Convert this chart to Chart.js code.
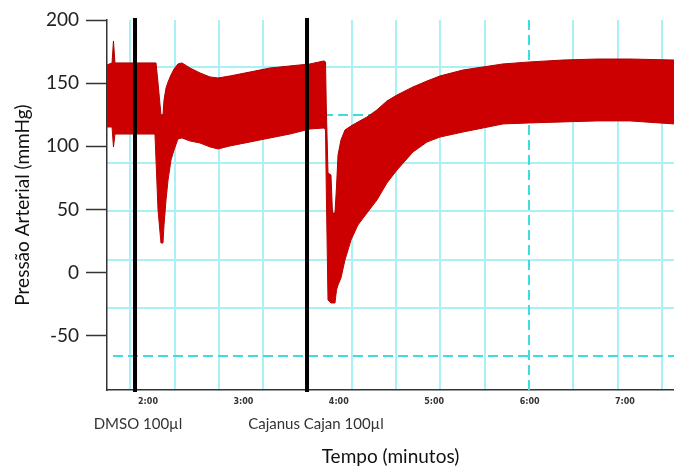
<!DOCTYPE html>
<html>
<head>
<meta charset="utf-8">
<script src="https://cdn.jsdelivr.net/npm/chart.js@4.4.1/dist/chart.umd.min.js"></script>
<style>
  html, body { margin: 0; padding: 0; background: #ffffff; }
  #wrap { width: 674px; height: 468px; }
</style>
</head>
<body>
<div id="wrap"><canvas id="c" width="674" height="468"></canvas></div>
<script>
// Arterial pressure recording: upper (systolic) and lower (diastolic) envelope of the pulse, time in minutes
const minutes = [1.570, 1.623, 1.638, 1.654, 2.073, 2.084, 2.105, 2.136, 2.157, 2.168, 2.189, 2.210, 2.241, 2.273,
  2.314, 2.356, 2.440, 2.545, 2.650, 2.734, 2.860, 3.069, 3.279, 3.488, 3.698, 3.845, 3.861, 3.869, 3.887,
  3.918, 3.934, 3.960, 3.976, 3.992, 4.023, 4.065, 4.128, 4.201, 4.296, 4.400, 4.505, 4.610, 4.778, 4.925,
  5.061, 5.302, 5.512, 5.721, 6.004, 6.350, 6.706, 7.052, 7.514];
const systolic = [164.4, 166.0, 183.4, 166.0, 166.0, 166.0, 150.1, 124.8, 124.8, 136.7, 146.2, 150.9, 156.5, 161.2,
  165.2, 166.0, 162.0, 158.1, 154.9, 154.1, 155.7, 158.8, 162.0, 163.6, 165.2, 167.6, 166.8, 131.1, 78.9,
  77.3, 47.2, 47.2, 67.8, 93.1, 105.0, 112.9, 116.1, 119.3, 123.2, 128.8, 135.9, 140.6, 147.0, 151.7,
  155.7, 160.4, 162.8, 165.2, 166.8, 168.3, 169.1, 169.1, 168.3];
const diastolic = [115.3, 115.3, 99.5, 109.7, 109.7, 89.2, 49.6, 23.4, 23.4, 37.7, 57.5, 73.3, 89.2, 97.1,
  105.8, 106.6, 104.2, 102.6, 99.5, 97.9, 100.3, 103.4, 106.6, 109.7, 113.7, 114.5, 112.9, 65.4, -21.7,
  -24.1, -24.1, -24.1, -13.8, -9.8, -4.3, 10.0, 25.8, 37.7, 47.2, 57.5, 71.0, 81.2, 95.5, 103.4,
  107.3, 111.3, 114.5, 117.7, 118.5, 119.3, 120.1, 120.1, 117.7];

// axis ticks
const pressureTicks = [200, 150, 100, 50, 0, -50];
const minuteTicks = [2, 3, 4, 5, 6, 7];

// injections (minutes) and their captions
const injectionMinutes = [1.864, 3.667];
const injectionLabels = ['DMSO 100µl', 'Cajanus Cajan 100µl'];

// background paper grid (cell indices); dashed guide lines
const gridCols = [-9, -8, -7, -6, -5, -4, -3, -2, -1, 0, 1, 2, 3];
const gridRows = [0, 1, 2, 3, 4, 5, 6];
const dashedCols = [0];
const dashedRows = [0, 5];

const GRID = '#aaf1f5';
const GUIDE = '#3fdbe2';
const RED = '#cc0000';
const captionOffsets = [3, 9];

const upper = minutes.map((t, i) => ({ x: t, y: systolic[i] }));
const lower = minutes.map((t, i) => ({ x: t, y: diastolic[i] }));

const markers = {
  id: 'markers',
  beforeDatasetsDraw(chart) {
    const { ctx, chartArea: a, scales } = chart;
    ctx.save();
    ctx.strokeStyle = GUIDE;
    ctx.lineWidth = 2;
    ctx.setLineDash([10, 5]);
    dashedCols.forEach(v => {
      const x = Math.round(scales.xg.getPixelForValue(v));
      ctx.beginPath(); ctx.moveTo(x, a.top); ctx.lineTo(x, a.bottom); ctx.stroke();
    });
    dashedRows.forEach(v => {
      const y = Math.round(scales.yg.getPixelForValue(v));
      ctx.beginPath(); ctx.moveTo(a.left + 6, y); ctx.lineTo(a.right, y); ctx.stroke();
    });
    ctx.restore();
  },
  afterDatasetsDraw(chart) {
    const { ctx, chartArea: a, scales } = chart;
    ctx.save();
    ctx.strokeStyle = '#000000';
    ctx.lineWidth = 4;
    injectionMinutes.forEach((t, i) => {
      const x = scales.x.getPixelForValue(t);
      ctx.beginPath(); ctx.moveTo(x, a.top - 2); ctx.lineTo(x, a.bottom + 2); ctx.stroke();
      ctx.fillStyle = '#333333';
      ctx.font = '15px Lato';
      ctx.textAlign = 'center';
      ctx.textBaseline = 'middle';
      ctx.fillText(injectionLabels[i], x + captionOffsets[i], a.bottom + 34);
    });
    ctx.restore();
  }
};

new Chart(document.getElementById('c'), {
  type: 'line',
  data: {
    datasets: [
      {
        data: upper,
        borderColor: '#b00000',
        borderWidth: 1,
        backgroundColor: RED,
        fill: '+1',
        pointRadius: 0,
        tension: 0
      },
      {
        data: lower,
        borderColor: '#b00000',
        borderWidth: 1,
        backgroundColor: RED,
        fill: false,
        pointRadius: 0,
        tension: 0
      }
    ]
  },
  options: {
    responsive: false,
    animation: false,
    events: [],
    layout: { padding: { top: 20, right: 0, bottom: 0, left: 0 } },
    plugins: { legend: { display: false }, tooltip: { enabled: false } },
    scales: {
      x: {
        type: 'linear',
        position: 'bottom',
        min: 1.5702,
        max: 7.514,
        afterBuildTicks: s => { s.ticks = minuteTicks.map(v => ({ value: v })); },
        afterFit: s => { s.height = 78; },
        grid: { display: false, drawTicks: false },
        border: { display: true, color: '#333333', width: 1.5 },
        ticks: {
          padding: 7,
          color: '#333333',
          font: { family: 'DejaVu Sans', size: 8, weight: 'bold' },
          callback: v => v + ':00'
        },
        title: {
          display: true,
          text: 'Tempo (minutos)',
          color: '#111111',
          font: { family: 'Lato', size: 19 },
          padding: { top: 0, bottom: 0 }
        }
      },
      xg: {
        type: 'linear',
        position: 'bottom',
        min: -9.526,
        max: 3.273,
        afterBuildTicks: s => { s.ticks = gridCols.map(v => ({ value: v })); },
        afterFit: s => { s.height = 0; },
        grid: {
          drawTicks: false,
          lineWidth: 2,
          color: c => dashedCols.includes(c.tick.value) ? 'rgba(0,0,0,0)' : GRID
        },
        border: { display: false },
        ticks: { display: false }
      },
      y: {
        type: 'linear',
        position: 'left',
        min: -93,
        max: 200,
        afterBuildTicks: s => { s.ticks = pressureTicks.map(v => ({ value: v })); },
        afterFit: s => { s.width = 107; },
        grid: {
          drawOnChartArea: false,
          drawTicks: true,
          tickLength: 21,
          tickWidth: 1.5,
          tickColor: '#333333'
        },
        border: { display: true, color: '#333333', width: 1.5 },
        ticks: {
          padding: 7,
          color: '#222222',
          font: { family: 'Lato', size: 19 }
        },
        title: {
          display: true,
          text: 'Pressão Arterial (mmHg)',
          color: '#111111',
          font: { family: 'Lato', size: 19 },
          padding: { top: 11, bottom: 0 }
        }
      },
      yg: {
        type: 'linear',
        position: 'right',
        min: -0.705,
        max: 6.97,
        afterBuildTicks: s => { s.ticks = gridRows.map(v => ({ value: v })); },
        afterFit: s => { s.width = 0; },
        grid: {
          drawTicks: false,
          lineWidth: 2,
          color: c => dashedRows.includes(c.tick.value) ? 'rgba(0,0,0,0)' : GRID
        },
        border: { display: false },
        ticks: { display: false }
      }
    }
  },
  plugins: [markers]
});
</script>
</body>
</html>
